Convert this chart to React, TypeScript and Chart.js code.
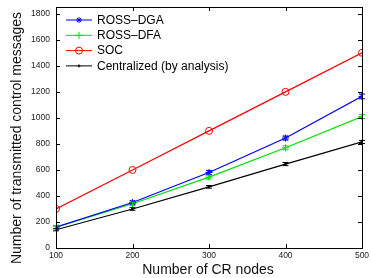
import React, { useEffect, useRef } from "react";
import { Chart, registerables } from "chart.js";

Chart.register(...registerables);

const nodes = [100, 200, 300, 400, 500];
const rossDGA = [160, 350, 580, 845, 1165];
const rossDGAErr = [10, 12, 15, 15, 18];
const rossDFA = [160, 340, 545, 770, 1010];
const rossDFAErr = [10, 12, 15, 15, 15];
const soc = [300, 600, 900, 1200, 1500];
const central = [140, 300, 470, 645, 815];
const centralErr = [8, 10, 10, 12, 12];
const yTicks = [0, 200, 400, 600, 800, 1000, 1200, 1400, 1600, 1800];
const xTicks = [100, 200, 300, 400, 500];

const seriesNames = ["ROSS\u2013DGA", "ROSS\u2013DFA", "SOC", "Centralized (by analysis)"];
const colors = ["#0000ff", "#00e000", "#ff0000", "#000000"];
const xTitle = "Number of CR nodes";
const yTitle = "Number of transmitted control messages";

const FONT = "'Liberation Sans', Arial, sans-serif";

export default function App() {
  const ref = useRef<HTMLCanvasElement>(null);
  useEffect(() => {
    if (!ref.current) return;
    const errs = [rossDGAErr, rossDFAErr, null, centralErr];
    const boxPlugin = {
      id: "box",
      afterDatasetsDraw(chart: any) {
        const { ctx, chartArea: a, scales } = chart;
        const xs = scales.x, ys = scales.y;
        ctx.save();
        // error bars
        chart.data.datasets.forEach((ds: any, i: number) => {
          const e = errs[i];
          if (!e) return;
          ctx.strokeStyle = colors[i];
          ctx.lineWidth = 1;
          ds.data.forEach((p: any, j: number) => {
            const x = xs.getPixelForValue(p.x);
            const y1 = ys.getPixelForValue(p.y - e[j]);
            const y2 = ys.getPixelForValue(p.y + e[j]);
            ctx.beginPath();
            ctx.moveTo(x, y1); ctx.lineTo(x, y2);
            ctx.moveTo(x - 3, y1); ctx.lineTo(x + 3, y1);
            ctx.moveTo(x - 3, y2); ctx.lineTo(x + 3, y2);
            ctx.stroke();
          });
        });
        // box
        ctx.strokeStyle = "#000";
        ctx.lineWidth = 1;
        ctx.strokeRect(Math.round(a.left) + 0.5, Math.round(a.top) + 0.5, Math.round(a.right - a.left), Math.round(a.bottom - a.top));
        ctx.beginPath();
        xTicks.forEach((v) => {
          const x = Math.round(xs.getPixelForValue(v)) + 0.5;
          ctx.moveTo(x, a.bottom); ctx.lineTo(x, a.bottom - 4);
          ctx.moveTo(x, a.top); ctx.lineTo(x, a.top + 4);
        });
        yTicks.forEach((v) => {
          const y = Math.round(ys.getPixelForValue(v)) + 0.5;
          ctx.moveTo(a.left, y); ctx.lineTo(a.left + 4, y);
          ctx.moveTo(a.right, y); ctx.lineTo(a.right - 4, y);
        });
        ctx.stroke();
        // tick labels
        ctx.fillStyle = "#222";
        ctx.font = `8.5px ${FONT}`;
        ctx.textBaseline = "middle";
        ctx.textAlign = "center";
        xTicks.forEach((v) => {
          ctx.fillText(String(v), xs.getPixelForValue(v), 256);
        });
        ctx.textAlign = "right";
        yTicks.forEach((v) => {
          ctx.fillText(String(v), 50, ys.getPixelForValue(v));
        });
        // axis titles
        ctx.fillStyle = "#111";
        ctx.font = `14px ${FONT}`;
        ctx.textAlign = "center";
        ctx.textBaseline = "alphabetic";
        ctx.fillText(xTitle, 208, 274);
        ctx.save();
        ctx.translate(21, 138);
        ctx.rotate(-Math.PI / 2);
        ctx.fillText(yTitle, 0, 0);
        ctx.restore();
        // legend
        ctx.textAlign = "left";
        ctx.font = `12px ${FONT}`;
        ctx.textBaseline = "middle";
        seriesNames.forEach((name, i) => {
          const y = 20 + i * 15.3;
          const x0 = 66, x1 = 92;
          ctx.strokeStyle = colors[i];
          ctx.lineWidth = 1;
          ctx.beginPath();
          ctx.moveTo(x0, y); ctx.lineTo(x1, y);
          ctx.stroke();
          const cx = (x0 + x1) / 2;
          ctx.beginPath();
          if (i === 0) {
            for (let k = 0; k < 4; k++) {
              const ang = (k * Math.PI) / 4;
              ctx.moveTo(cx - 3 * Math.cos(ang), y - 3 * Math.sin(ang));
              ctx.lineTo(cx + 3 * Math.cos(ang), y + 3 * Math.sin(ang));
            }
          } else if (i === 1) {
            ctx.moveTo(cx - 3.5, y); ctx.lineTo(cx + 3.5, y);
            ctx.moveTo(cx, y - 3.5); ctx.lineTo(cx, y + 3.5);
          } else if (i === 2) {
            ctx.arc(cx, y, 3.5, 0, Math.PI * 2);
          } else {
            ctx.arc(cx, y, 1, 0, Math.PI * 2);
          }
          ctx.stroke();
          ctx.fillStyle = "#000";
          ctx.fillText(name, 97, y + 0.5);
        });
        ctx.restore();
      },
    };

    const mk = (label: string, vals: number[], i: number, style: any, radius: number) => ({
      label,
      data: nodes.map((n, j) => ({ x: n, y: vals[j] })),
      borderColor: colors[i],
      backgroundColor: i === 2 ? "rgba(0,0,0,0)" : colors[i],
      pointBorderColor: colors[i],
      pointBackgroundColor: i === 2 ? "rgba(0,0,0,0)" : colors[i],
      borderWidth: 1.2,
      pointStyle: style,
      pointRadius: radius,
      pointBorderWidth: 1,
      tension: 0,
      fill: false,
    });

    const chart = new Chart(ref.current, {
      type: "line",
      data: {
        datasets: [
          mk(seriesNames[0], rossDGA, 0, "star", 3.5),
          mk(seriesNames[1], rossDFA, 1, "cross", 3.5),
          mk(seriesNames[2], soc, 2, "circle", 3.5),
          mk(seriesNames[3], central, 3, "circle", 1),
        ],
      },
      plugins: [boxPlugin],
      options: {
        responsive: false,
        animation: false,
        layout: { padding: { left: 0, right: 9, top: 7, bottom: 0 } },
        plugins: { legend: { display: false }, tooltip: { enabled: false } },
        scales: {
          x: {
            type: "linear",
            min: 100,
            max: 500,
            afterBuildTicks: (s: any) => { s.ticks = xTicks.map((v) => ({ value: v })); },
            afterFit: (s: any) => { s.height = 30; },
            grid: { display: false },
            border: { display: false },
            ticks: { display: false },
            title: { display: false },
          },
          y: {
            min: 0,
            max: 1852,
            afterBuildTicks: (s: any) => { s.ticks = yTicks.map((v) => ({ value: v })); },
            afterFit: (s: any) => { s.width = 56; },
            grid: { display: false },
            border: { display: false },
            ticks: { display: false },
            title: { display: false },
          },
        },
      },
    });
    return () => chart.destroy();
  }, []);
  return (
    <div style={{ position: "absolute", left: 0, top: 0, width: 371, height: 278, background: "#fff" }}>
      <canvas ref={ref} width={371} height={278} />
    </div>
  );
}
